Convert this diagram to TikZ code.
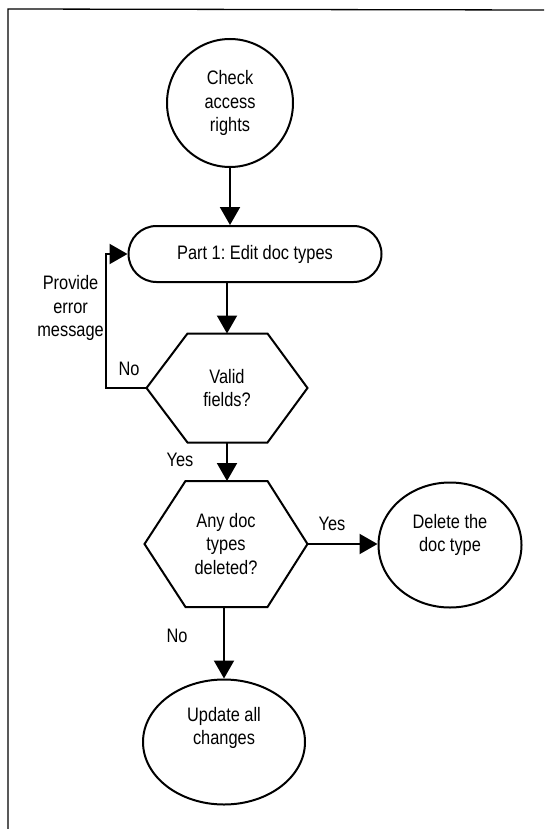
\documentclass[tikz,border=0pt]{standalone}
\usepackage{fontspec}
\setmainfont{Liberation Sans}[FakeStretch=0.84]
\usepackage{tikz}
\usetikzlibrary{shapes,arrows.meta}

\begin{document}
\begin{tikzpicture}[
    x=1pt, y=-1pt,
    every node/.style={font=\fontsize{19.5}{23.5}\selectfont\frenchspacing},
    oval/.style={ellipse, draw, line width=2pt, inner sep=0pt, align=center},
    stadium/.style={rounded rectangle, draw, line width=2pt, inner sep=0pt},
    decision/.style={rectangle, inner sep=0pt, outer sep=0pt, align=center},
    hexline/.style={line width=2pt, line join=miter},
    arrow/.style={-{Triangle[width=20pt,length=18pt]}, line width=2pt},
    lbl/.style={inner sep=0pt, align=center},
]
    \useasboundingbox (0,0) rectangle (544,829);
    % page frame (left and top only)
    \draw[line width=1.3pt] (8,829) -- (8,9) -- (544,10);

    \node[oval, minimum width=126pt, minimum height=128pt] (check) at (230,103) {Check\\access\\rights};
    \node[stadium, minimum width=253pt, minimum height=56pt] (part1) at (255,254) {Part 1: Edit doc types};
    \node[decision, minimum width=161pt, minimum height=109pt] (valid) at (227,388) {Valid\\fields?};
    \node[decision, minimum width=163pt, minimum height=126pt] (anydoc) at (226,544) {Any doc\\types\\deleted?};
    \node[oval, minimum width=143pt, minimum height=125pt,
          label={[lbl, yshift=10pt]center:Delete the\\doc type}] (delete) at (450,545) {};
    \node[oval, minimum width=162pt, minimum height=125pt,
          label={[lbl, yshift=14pt]center:Update all\\changes}] (update) at (224,742) {};

    % hexagon outlines
    \foreach \n in {valid,anydoc}
        \draw[hexline] (\n.west) -- ([xshift=41pt]\n.north west) -- ([xshift=-40pt]\n.north east)
            -- (\n.east) -- ([xshift=-40pt]\n.south east) -- ([xshift=41pt]\n.south west) -- cycle;

    \draw[arrow] (check.south) -- (check.south |- part1.north);
    \draw[arrow] (valid.north |- part1.south) -- (valid.north);
    \draw[arrow] (valid.south) -- (valid.south |- anydoc.north);
    \draw[arrow] (anydoc.east) -- (anydoc.east -| delete.west);
    \draw[arrow] (anydoc.south -| update.north) -- (update.north);
    \draw[arrow] (valid.west) -- ++(-41,0) |- (part1.west);

    \node[lbl, anchor=east] (errmsg) at (104,308) {Provide\\error\\message};
    \node[lbl] (no1) at (129,369) {No};
    \node[lbl] (yes1) at (180,460) {Yes};
    \node[lbl] (yes2) at (332,524) {Yes};
    \node[lbl] (no2) at (177,636) {No};
\end{tikzpicture}
\end{document}
